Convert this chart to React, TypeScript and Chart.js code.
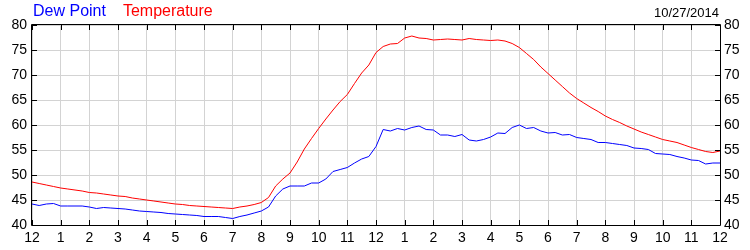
import React, { useEffect, useRef } from "react";
import { Chart, registerables } from "chart.js";

Chart.register(...registerables);

// 15-minute readings, midnight to midnight
const temperature = [
  48.6, 48.3, 48.0, 47.7, 47.4, 47.2, 47.0, 46.8, 46.5, 46.4, 46.2, 46.0,
  45.8, 45.7, 45.4, 45.2, 45.0, 44.8, 44.6, 44.4, 44.2, 44.1, 43.9, 43.8,
  43.7, 43.6, 43.5, 43.4, 43.3, 43.6, 43.8, 44.1, 44.5, 45.5, 47.8, 49.2,
  50.4, 52.6, 55.2, 57.3, 59.3, 61.2, 63.0, 64.7, 66.1, 68.3, 70.4, 72.0,
  74.5, 75.7, 76.2, 76.3, 77.4, 77.8, 77.4, 77.3, 77.0, 77.1, 77.2, 77.1,
  77.0, 77.3, 77.1, 77.0, 76.9, 77.0, 76.8, 76.3, 75.5, 74.3, 73.1, 71.6,
  70.3, 69.0, 67.7, 66.4, 65.3, 64.4, 63.5, 62.7, 61.8, 61.1, 60.5, 59.8,
  59.2, 58.6, 58.1, 57.6, 57.1, 56.8, 56.5, 56.0, 55.5, 55.1, 54.7, 54.5,
  54.8,
];

const dewPoint = [
  44.2, 43.9, 44.2, 44.3, 43.8, 43.8, 43.8, 43.8, 43.6, 43.3, 43.5, 43.4,
  43.3, 43.2, 43.0, 42.8, 42.7, 42.6, 42.5, 42.3, 42.2, 42.1, 42.0, 41.9,
  41.7, 41.7, 41.7, 41.5, 41.3, 41.7, 42.0, 42.4, 42.8, 43.6, 45.8, 47.2,
  47.8, 47.8, 47.8, 48.4, 48.4, 49.2, 50.7, 51.1, 51.5, 52.4, 53.2, 53.7,
  55.7, 59.1, 58.8, 59.3, 59.0, 59.5, 59.8, 59.1, 59.0, 58.0, 58.0, 57.7,
  58.1, 57.0, 56.8, 57.1, 57.6, 58.4, 58.3, 59.5, 60.0, 59.3, 59.5, 58.8,
  58.4, 58.5, 58.0, 58.1, 57.5, 57.3, 57.1, 56.5, 56.5, 56.3, 56.1, 55.9,
  55.4, 55.3, 55.1, 54.3, 54.2, 54.1, 53.7, 53.4, 53.0, 52.9, 52.2, 52.4,
  52.4,
];

const hourLabels = [
  "12", "1", "2", "3", "4", "5", "6", "7", "8", "9", "10", "11",
  "12", "1", "2", "3", "4", "5", "6", "7", "8", "9", "10", "11", "12",
];

const dateLabel = "10/27/2014";
const legendItems = [
  { text: "Dew Point", color: "#0000ff" },
  { text: "Temperature", color: "#ff0000" },
];

const FONT = "'Liberation Sans', Arial, sans-serif";

const framePlugin = {
  id: "frame",
  afterDatasetsDraw(chart: any) {
    const { ctx, chartArea } = chart;
    const { left, right, top, bottom } = chartArea;
    const xs = chart.scales.x;
    const ys = chart.scales.y;
    ctx.save();
    ctx.strokeStyle = "#000";
    ctx.lineWidth = 1;
    ctx.beginPath();
    ctx.rect(Math.round(left) - 0.5, Math.round(top) - 0.5, Math.round(right - left) + 1, Math.round(bottom - top) + 1);
    ctx.stroke();
    ctx.beginPath();
    for (let h = 0; h <= 24; h++) {
      const x = Math.round(xs.getPixelForValue(h)) + 0.5;
      ctx.moveTo(x, bottom);
      ctx.lineTo(x, bottom - 5);
      ctx.moveTo(x, top);
      ctx.lineTo(x, top + 5);
    }
    for (let v = 40; v <= 80; v += 5) {
      const y = Math.round(ys.getPixelForValue(v)) + 0.5;
      ctx.moveTo(left, y);
      ctx.lineTo(left + 5, y);
      ctx.moveTo(right, y);
      ctx.lineTo(right - 5, y);
    }
    ctx.stroke();
    ctx.restore();
  },
  afterDraw(chart: any) {
    const { ctx } = chart;
    ctx.save();
    ctx.font = `16px ${FONT}`;
    ctx.textBaseline = "middle";
    ctx.textAlign = "left";
    let x = 33;
    legendItems.forEach((it) => {
      ctx.fillStyle = it.color;
      ctx.fillText(it.text, x, 12);
      x += ctx.measureText(it.text).width + 17;
    });
    ctx.font = `13px ${FONT}`;
    ctx.fillStyle = "#000";
    ctx.textAlign = "right";
    ctx.fillText(dateLabel, 719, 13);
    ctx.restore();
  },
};

export default function App() {
  const ref = useRef<HTMLCanvasElement | null>(null);
  useEffect(() => {
    if (!ref.current) return;
    const hours = temperature.map((_, i) => i * 0.25);
    const chart = new Chart(ref.current, {
      type: "line",
      data: {
        datasets: [
          {
            label: "Temperature",
            data: temperature.map((v, i) => ({ x: hours[i], y: v })),
            borderColor: "#ff0000",
            borderWidth: 1,
            pointRadius: 0,
            tension: 0,
          },
          {
            label: "Dew Point",
            data: dewPoint.map((v, i) => ({ x: hours[i], y: v })),
            borderColor: "#0000ff",
            borderWidth: 1,
            pointRadius: 0,
            tension: 0,
          },
        ],
      },
      options: {
        animation: false,
        responsive: false,
        maintainAspectRatio: false,
        layout: { padding: { top: 25, left: 0, right: 0, bottom: 0 } },
        plugins: { legend: { display: false }, tooltip: { enabled: false } },
        scales: {
          x: {
            type: "linear",
            min: 0,
            max: 24,
            afterFit: (s: any) => { s.height = 25; },
            afterBuildTicks: (s: any) => {
              s.ticks = hourLabels.map((_, i) => ({ value: i }));
            },
            border: { display: false },
            grid: { color: "#d3d3d3", drawTicks: false, lineWidth: 1 },
            ticks: {
              autoSkip: false,
              maxRotation: 0,
              padding: 5,
              color: "#000",
              font: { family: FONT, size: 14 },
              callback: (v: any) => hourLabels[Math.round(Number(v))],
            },
          },
          y: {
            position: "left",
            min: 40,
            max: 80,
            afterFit: (s: any) => { s.width = 32; },
            border: { display: false },
            grid: { color: "#d3d3d3", drawTicks: false, lineWidth: 1 },
            ticks: {
              stepSize: 5,
              padding: 5,
              color: "#000",
              font: { family: FONT, size: 14 },
            },
          },
          y2: {
            position: "right",
            min: 40,
            max: 80,
            afterFit: (s: any) => { s.width = 30; },
            border: { display: false },
            grid: { drawOnChartArea: false, drawTicks: false },
            ticks: {
              stepSize: 5,
              padding: 4,
              color: "#000",
              font: { family: FONT, size: 14 },
            },
          },
        },
      },
      plugins: [framePlugin],
    });
    return () => chart.destroy();
  }, []);
  return (
    <div style={{ position: "absolute", left: 0, top: 0, width: 750, height: 250, background: "#fff" }}>
      <canvas ref={ref} width={750} height={250} style={{ display: "block" }} />
    </div>
  );
}
